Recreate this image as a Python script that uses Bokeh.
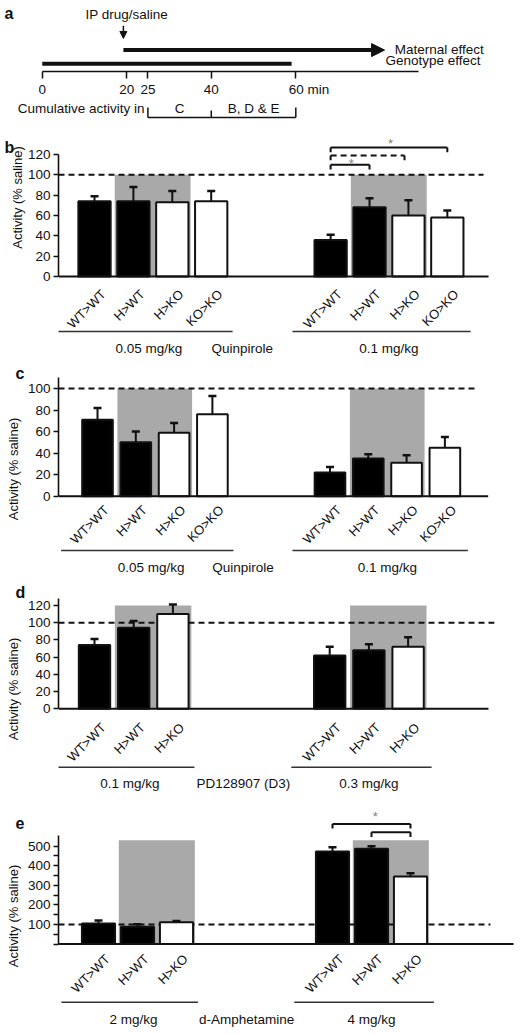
import math
from bokeh.plotting import figure
from bokeh.models import Range1d, FixedTicker, Label, Arrow, NormalHead
from bokeh.layouts import column
from bokeh.embed import file_html
from bokeh.resources import INLINE
from bokeh.core.properties import value

FONT = "Liberation Sans"
W = 521
NBSP = "\u00a0"
INK = "#111111"
GRAY = "#a9a9a9"

# ---------------- data ----------------
# panel a: time line (minutes)
timeline_ticks = [0, 20, 25, 40, 60]
timeline_end = 89
drug_time = 20
maternal_effect_span = [20, 81]
genotype_effect_span = [0, 59]
window_c = [25, 40]
window_bde = [40, 60]

groups4 = ["WT>WT", "H>WT", "H>KO", "KO>KO"]
groups3 = ["WT>WT", "H>WT", "H>KO"]

# panel b: quinpirole, 40-60 min
b_doses = ["0.05 mg/kg", "0.1 mg/kg"]
b_low_mean = [74, 74, 73, 74]
b_low_sem = [5, 14, 11, 10]
b_high_mean = [36, 68, 60, 58]
b_high_sem = [5, 9, 15, 7]
b_comparisons = [("WT>WT", "KO>KO"), ("WT>WT", "H>KO"), ("WT>WT", "H>WT")]

# panel c: quinpirole, 25-40 min
c_doses = ["0.05 mg/kg", "0.1 mg/kg"]
c_low_mean = [71, 50, 59, 76]
c_low_sem = [11, 10, 9, 17]
c_high_mean = [22, 35, 31, 45]
c_high_sem = [5, 4, 7, 10]

# panel d: PD128907 (D3)
d_doses = ["0.1 mg/kg", "0.3 mg/kg"]
d_low_mean = [74, 94, 110]
d_low_sem = [7, 8, 11]
d_high_mean = [62, 68, 72]
d_high_sem = [10, 7, 11]

# panel e: d-amphetamine
e_doses = ["2 mg/kg", "4 mg/kg"]
e_low_mean = [105, 88, 112]
e_low_sem = [15, 14, 6]
e_high_mean = [473, 487, 345]
e_high_sem = [22, 13, 17]
e_comparisons = [("WT>WT", "H>KO"), ("H>WT", "H>KO")]

Y_LABEL = "Activity (% saline)"


def txt(p, x, y, s, size="13.5px", align="center", baseline="middle", angle=0.0,
        style="normal", color=INK, level="glyph"):
    p.text(x=[x], y=[y], text=[s], angle=angle, text_align=align, text_baseline=baseline,
           text_font=value(FONT), text_font_size=size, text_color=color,
           text_font_style=style, level=level)


def make_bar_panel(cfg):
    xr, yr = cfg["xr"], cfg["yr"]
    p = figure(width=W, height=cfg["height"], x_range=Range1d(*xr), y_range=Range1d(*yr),
               x_axis_location=None, toolbar_location=None, output_backend="svg",
               min_border_left=58, min_border_right=0, min_border_top=0, min_border_bottom=0,
               frame_align=False)
    p.grid.visible = False
    p.outline_line_color = None
    sx, sy = cfg["sx"], cfg["sy"]
    groups = cfg["groups"]
    n = len(groups)
    g1 = cfg["g1"]
    offsets = [0.0, g1]

    ax = p.yaxis[0]
    ax.bounds = cfg["ybounds"]
    ax.ticker = FixedTicker(ticks=cfg["yticks"], minor_ticks=cfg.get("minor", []))
    ax.major_label_overrides = cfg.get("overrides", {})
    ax.axis_line_width = 1.6
    ax.axis_line_color = INK
    ax.major_tick_line_width = 1.6
    ax.major_tick_line_color = INK
    ax.major_tick_out = 5
    ax.major_tick_in = 0
    ax.minor_tick_out = 5
    ax.minor_tick_in = 0
    ax.minor_tick_line_width = 1.4
    ax.minor_tick_line_color = INK if cfg.get("minor") else None
    ax.major_label_text_font = FONT
    ax.major_label_text_font_size = "13.5px"
    ax.major_label_text_color = INK
    ax.major_label_standoff = 3
    if cfg.get("label_y") is None:
        ax.axis_label = Y_LABEL
        ax.axis_label_text_font = FONT
        ax.axis_label_text_font_size = "13px"
        ax.axis_label_text_font_style = "normal"
        ax.axis_label_text_color = INK
        ax.axis_label_standoff = 4
    else:
        txt(p, xr[0] - 41.0 / sx, cfg["label_y"], Y_LABEL, size="13px",
            angle=math.pi / 2, level="overlay")

    # grey background boxes for offspring of heterozygous mothers
    p.quad(left=[o + 1 - 0.48 for o in offsets], right=[o + 2 + 0.47 for o in offsets],
           bottom=[0, 0], top=[cfg["gray_top"]] * 2, fill_color=GRAY, line_color=None)
    # saline level
    p.segment(x0=[xr[0]], y0=[100], x1=[cfg["dash_end"]], y1=[100], line_color=INK,
              line_width=2, line_dash="6 4")

    for o, means, sems in ((0.0, cfg["low_mean"], cfg["low_sem"]),
                           (g1, cfg["high_mean"], cfg["high_sem"])):
        xs = [o + k for k in range(n)]
        fills = ["black" if g.endswith("WT") else "white" for g in groups]
        tops = [m + s for m, s in zip(means, sems)]
        p.segment(x0=xs, y0=means, x1=xs, y1=tops, line_color=INK, line_width=2)
        cap = 4.0 / sx
        p.segment(x0=[x - cap for x in xs], y0=tops, x1=[x + cap for x in xs], y1=tops,
                  line_color=INK, line_width=2.5)
        p.vbar(x=xs, top=means, bottom=0, width=cfg["bar_w"], fill_color=fills,
               line_color=INK, line_width=2)
        # category labels
        ly = -(cfg["lbl_px"] + 3.5) / sy
        p.text(x=[x + 9.0 / sx for x in xs], y=[ly] * n, text=groups, angle=math.pi / 4,
               text_align="right", text_baseline="middle", text_font=value(FONT),
               text_font_size="13px", text_color=INK)

    # baseline
    p.segment(x0=[xr[0]], y0=[0], x1=[cfg["base_end"]], y1=[0], line_color=INK, line_width=2)

    # dose underlines and labels
    uy = cfg["uline"]
    p.segment(x0=[-0.95, g1 - 0.98], y0=[uy, uy], x1=[n - 1 + 0.55, g1 + n - 1 + 0.6],
              y1=[uy, uy], line_color="#333333", line_width=1.5)
    ty = cfg["text_y"]
    txt(p, (n - 1) / 2.0 - 0.1, ty, cfg["doses"][0])
    txt(p, g1 + (n - 1) / 2.0, ty, cfg["doses"][1])
    txt(p, 3.8, ty, cfg["drug"])

    # significance brackets
    for (a, b), yb, dashed in cfg.get("brackets", []):
        xa = g1 + groups.index(a)
        xb = g1 + groups.index(b) - (0.1 if dashed else 0.0)
        tick = cfg["tick"]
        p.segment(x0=[xa], y0=[yb], x1=[xb], y1=[yb], line_color=INK, line_width=2,
                  line_dash="6 4" if dashed else "solid")
        p.segment(x0=[xa, xb], y0=[yb, yb], x1=[xa, xb], y1=[yb - tick, yb - tick],
                  line_color=INK, line_width=2)
    for (xa, ya) in cfg.get("stars", []):
        txt(p, xa, ya - 3.0 / sy, "*", size="13px", color="#808080")

    # panel letter (outside the frame -> overlay level so it is not clipped)
    txt(p, cfg["letter_x"], cfg["letter_y"], cfg["letter"], size="16px", align="left",
        style="bold", level="overlay")
    return p


# ---------------- panel a ----------------
sa = 4.226
xa = (-41.75 / sa, (W - 41.75) / sa)
pa = figure(width=W, height=99, x_range=Range1d(*xa), y_range=Range1d(0, 73),
            y_axis_location=None, toolbar_location=None, output_backend="svg",
            min_border_left=0, min_border_right=0, min_border_top=0, min_border_bottom=26,
            frame_align=False)
pa.grid.visible = False
pa.outline_line_color = None
axa = pa.xaxis[0]
axa.bounds = (0, timeline_end)
axa.ticker = FixedTicker(ticks=timeline_ticks, minor_ticks=[])
axa.major_label_overrides = {60: NBSP * 7 + "60 min"}
axa.axis_line_width = 1.5
axa.axis_line_color = INK
axa.major_tick_line_width = 1.5
axa.major_tick_line_color = INK
axa.major_tick_out = 7
axa.major_tick_in = 0
axa.minor_tick_line_color = None
axa.major_label_text_font = FONT
axa.major_label_text_font_size = "13.5px"
axa.major_label_text_color = INK
axa.major_label_standoff = 3

pa.add_layout(Label(x=xa[0] + 4 / sa, y=60, text="a", text_font=FONT, text_font_size="16px",
                    text_font_style="bold", text_align="left", text_baseline="middle",
                    text_color=INK))
txt(pa, drug_time, 59, "IP drug/saline")
pa.add_layout(Arrow(x_start=drug_time - 0.8, y_start=47, x_end=drug_time - 0.8, y_end=34,
                    line_width=1.5, line_color=INK,
                    end=NormalHead(size=7, fill_color=INK, line_color=INK)))
pa.add_layout(Arrow(x_start=maternal_effect_span[0] - 0.8, y_start=22,
                    x_end=maternal_effect_span[1], y_end=22, line_width=4, line_color=INK,
                    end=NormalHead(size=13, fill_color=INK, line_color=INK)))
pa.segment(x0=[genotype_effect_span[0]], y0=[8], x1=[genotype_effect_span[1]], y1=[8],
           line_width=4, line_color=INK)
txt(pa, 83.4, 23, "Maternal effect", align="left")
txt(pa, 81.2, 11, "Genotype effect", align="left")

pa2 = figure(width=W, height=34, x_range=pa.x_range, y_range=Range1d(0, 34),
             x_axis_location=None, y_axis_location=None, toolbar_location=None,
             output_backend="svg", min_border_left=0, min_border_right=0,
             min_border_top=0, min_border_bottom=0, frame_align=False)
pa2.grid.visible = False
pa2.outline_line_color = None
txt(pa2, 24.2, 25, "Cumulative activity in", align="right")
pa2.segment(x0=[window_c[0]], y0=[16], x1=[window_bde[1]], y1=[16], line_width=1.5,
            line_color=INK)
pa2.segment(x0=[window_c[0], window_c[1], window_bde[1]], y0=[16, 16, 16],
            x1=[window_c[0], window_c[1], window_bde[1]], y1=[26, 23, 26],
            line_width=1.5, line_color=INK)
txt(pa2, sum(window_c) / 2, 25, "C")
txt(pa2, sum(window_bde) / 2, 25, "B, D & E")

# ---------------- panels b-e ----------------
sb, syb = 38.9, 1.017
xb0 = (58 - 94) / sb
cfg_b = dict(height=224, sx=sb, sy=syb, xr=(xb0, (W - 94) / sb),
             yr=((276 - 357) / syb, (276 - 133) / syb), groups=groups4, g1=6.07,
             low_mean=b_low_mean, low_sem=b_low_sem, high_mean=b_high_mean,
             high_sem=b_high_sem, yticks=[0, 20, 40, 60, 80, 100, 120], ybounds=(0, 120),
             gray_top=100, dash_end=10.0, base_end=10.13, bar_w=0.83, lbl_px=12,
             uline=-54, text_y=-70.8, doses=b_doses, drug="Quinpirole",
             brackets=[(b_comparisons[0], 126.8, False), (b_comparisons[1], 119, True),
                       (b_comparisons[2], 110, False)], tick=4.7,
             stars=[(7.61, 134), (6.6, 114.4)], letter="b",
             letter_x=xb0 - 54 / sb, letter_y=127, label_y=(276 - 197) / syb)

sc, syc = 38.3, 1.077
xc0 = (58 - 97) / sc
cfg_c = dict(height=223, sx=sc, sy=syc, xr=(xc0, (W - 97) / sc),
             yr=((495.7 - 580) / syc, (495.7 - 357) / syc), groups=groups4, g1=6.07,
             low_mean=c_low_mean, low_sem=c_low_sem, high_mean=c_high_mean,
             high_sem=c_high_sem, yticks=[0, 20, 40, 60, 80, 100], ybounds=(0, 110),
             gray_top=100, dash_end=9.9, base_end=10.2, bar_w=0.8, lbl_px=8,
             uline=-50.4, text_y=-66.2, doses=c_doses, drug="Quinpirole", letter="c",
             letter_x=xc0 - 43 / sc, letter_y=114)

sd, syd = 39.2, 0.861
xd0 = (58 - 94) / sd
cfg_d = dict(height=217, sx=sd, sy=syd, xr=(xd0, (W - 94) / sd),
             yr=((708.3 - 797) / syd, (708.3 - 580) / syd), groups=groups3, g1=6.0,
             low_mean=d_low_mean, low_sem=d_low_sem, high_mean=d_high_mean,
             high_sem=d_high_sem, yticks=[0, 20, 40, 60, 80, 100, 120], ybounds=(0, 128),
             gray_top=120, dash_end=10.2, base_end=10.05, bar_w=0.8, lbl_px=13,
             uline=-67.8, text_y=-86.8, doses=d_doses, drug="PD128907 (D3)", letter="d",
             letter_x=xd0 - 43 / sd, letter_y=135)

se, sye = 39.0, 0.1958
xe0 = (58 - 98) / se
cfg_e = dict(height=237, sx=se, sy=sye, xr=(xe0, (W - 98) / se),
             yr=((943.6 - 1034) / sye, (943.6 - 797) / sye), groups=groups3, g1=6.0,
             low_mean=e_low_mean, low_sem=e_low_sem, high_mean=e_high_mean,
             high_sem=e_high_sem, yticks=[0, 100, 200, 300, 400, 500],
             overrides={0: ""}, minor=[50, 150, 250, 350, 450], ybounds=(0, 555),
             gray_top=530, dash_end=10.05, base_end=(513 - 98) / se, bar_w=0.85, lbl_px=9,
             uline=-296.7, text_y=-385, doses=e_doses, drug="d-Amphetamine",
             brackets=[(e_comparisons[0], 614, False), (e_comparisons[1], 571, False)],
             tick=24, stars=[(7.1, 668)], letter="e",
             letter_x=xe0 - 43 / se, letter_y=621)

pb = make_bar_panel(cfg_b)
pc = make_bar_panel(cfg_c)
pd = make_bar_panel(cfg_d)
pe = make_bar_panel(cfg_e)

layout = column(pa, pa2, pb, pc, pd, pe, spacing=0)
open("out.html", "w").write(file_html(layout, INLINE))
